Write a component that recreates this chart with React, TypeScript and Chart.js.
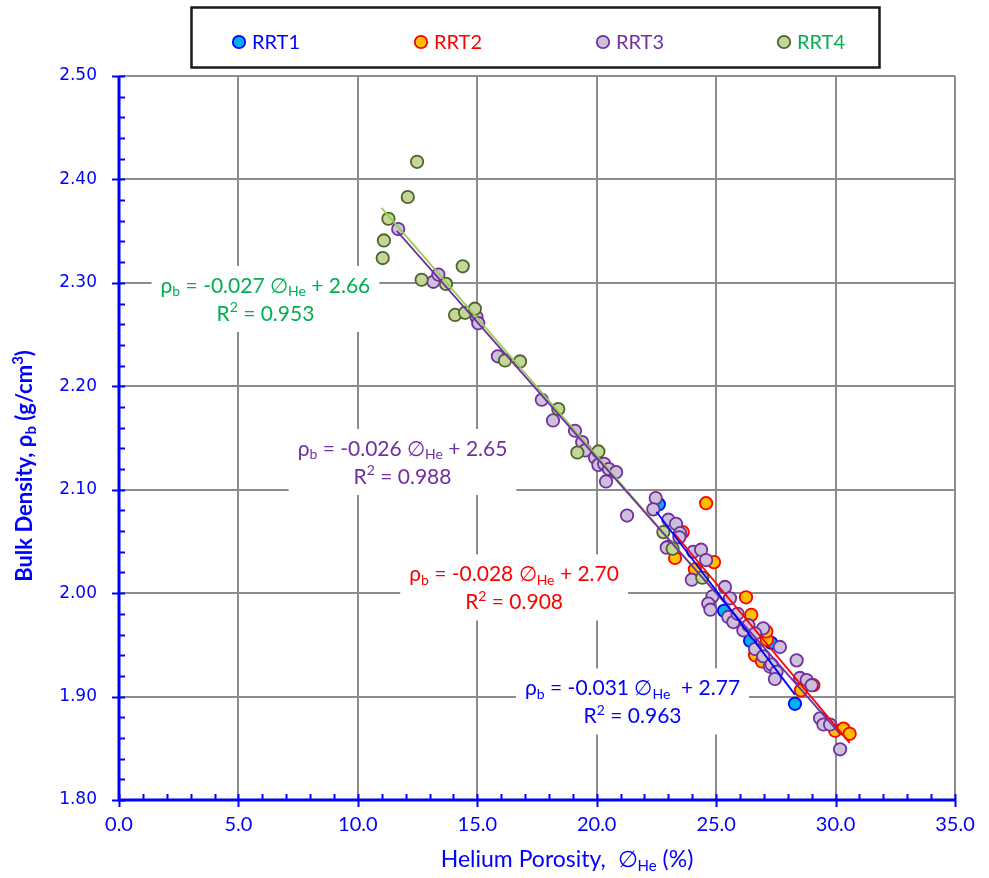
import React, { useEffect, useRef } from "react";
import { Chart, registerables } from "chart.js";

Chart.register(...registerables);

// ---- data -------------------------------------------------------------
const seriesNames = ["RRT1", "RRT2", "RRT3", "RRT4"];

// Helium porosity (%) and bulk density (g/cm3) per rock type
const rrt1Porosity = [22.6, 25.33, 26.42, 27.3, 28.3];
const rrt1Density = [2.086, 1.983, 1.954, 1.952, 1.893];

const rrt2Porosity = [24.58, 23.6, 23.28, 24.91, 24.11, 26.25, 26.47, 27.12, 27.1, 26.63, 26.92, 28.55, 29.07, 29.98, 30.33, 30.59];
const rrt2Density = [2.087, 2.059, 2.034, 2.03, 2.023, 1.996, 1.979, 1.955, 1.963, 1.94, 1.934, 1.906, 1.911, 1.867, 1.869, 1.864];

const rrt3Porosity = [
  11.69, 13.16, 13.37, 14.97, 15.04, 15.86, 17.7, 18.17, 19.09, 19.39, 19.51, 19.93, 20.07, 20.31, 20.51,
  20.81, 20.39, 21.27, 22.47, 22.37, 23.0, 23.32, 23.49, 23.46, 23.0, 22.93, 24.04, 24.37, 24.58, 23.98,
  25.37, 25.58, 24.85, 24.67, 24.76, 25.51, 25.72, 25.9, 26.14, 26.35, 26.97, 26.63, 27.67, 26.63, 26.97,
  27.25, 28.37, 27.32, 27.53, 27.46, 28.51, 28.79, 29.0, 29.35, 29.49, 29.77, 30.19,
];
const rrt3Density = [
  2.352, 2.301, 2.308, 2.267, 2.261, 2.229, 2.187, 2.167, 2.157, 2.146, 2.138, 2.131, 2.124, 2.125, 2.12,
  2.117, 2.108, 2.075, 2.092, 2.081, 2.071, 2.067, 2.058, 2.054, 2.045, 2.044, 2.04, 2.042, 2.032, 2.013,
  2.006, 1.995, 1.997, 1.99, 1.984, 1.977, 1.972, 1.98, 1.964, 1.969, 1.966, 1.961, 1.948, 1.946, 1.939,
  1.929, 1.935, 1.931, 1.924, 1.917, 1.918, 1.916, 1.911, 1.879, 1.873, 1.873, 1.849,
];

const rrt4Porosity = [11.04, 11.09, 11.28, 12.09, 12.48, 12.67, 13.69, 14.39, 14.07, 14.49, 14.9, 16.16, 16.79, 18.39, 19.19, 20.07, 22.79, 23.18, 24.42];
const rrt4Density = [2.324, 2.341, 2.362, 2.383, 2.417, 2.303, 2.299, 2.316, 2.269, 2.271, 2.275, 2.225, 2.224, 2.178, 2.136, 2.137, 2.059, 2.043, 2.015];

// linear trend lines: density = slope * porosity + intercept
const trendSlope = [-0.0305, -0.0276, -0.0262, -0.0266];
const trendIntercept = [2.765, 2.6995, 2.6549, 2.6649];
const trendFrom = [22.5, 23.28, 11.63, 10.99];
const trendTo = [28.3, 30.59, 30.19, 24.9];

// equation labels
const eqSlopeText = ["-0.031", "-0.028", "-0.026", "-0.027"];
const eqInterceptText = ["2.77", "2.70", "2.65", "2.66"];
const eqR2Text = ["0.963", "0.908", "0.988", "0.953"];
const eqAnchorX = [21.5, 16.54, 11.87, 6.13];
const eqAnchorY = [1.8953, 2.0055, 2.1268, 2.2844];

// axes
const xTicks = [0, 5, 10, 15, 20, 25, 30, 35];
const yTicks = [1.8, 1.9, 2.0, 2.1, 2.2, 2.3, 2.4, 2.5];

// ---- styling ----------------------------------------------------------
const AXIS_BLUE = "#0000FF";
const GRID_GREY = "#8C8C8C";
const markerFill = ["#00B0F0", "#FFC000", "#CCC0DA", "#C4D79B"];
const markerEdge = ["#0000FF", "#FF0000", "#7030A0", "#4F6228"];
const trendColor = ["#0000FF", "#FF0000", "#7030A0", "#92D050"];
const textColor = ["#0000FF", "#FF0000", "#7030A0", "#00B050"];
const SANS = "Lato, 'Noto Sans', sans-serif";
const MARKER_R = 6.2;

type Seg = { t: string; sub?: boolean; sup?: boolean };

function segFont(seg: Seg, size: number, weight: string) {
  const s = seg.sub || seg.sup ? Math.round(size * 0.66) : size;
  return `${weight} ${s}px ${SANS}`;
}

function richWidth(ctx: CanvasRenderingContext2D, segs: Seg[], size: number, weight: string) {
  let w = 0;
  for (const seg of segs) {
    ctx.font = segFont(seg, size, weight);
    w += ctx.measureText(seg.t).width;
  }
  return w;
}

function drawRich(
  ctx: CanvasRenderingContext2D,
  segs: Seg[],
  cx: number,
  cy: number,
  size: number,
  weight: string,
  color: string
) {
  const total = richWidth(ctx, segs, size, weight);
  let x = cx - total / 2;
  ctx.save();
  ctx.fillStyle = color;
  ctx.textBaseline = "middle";
  ctx.textAlign = "left";
  for (const seg of segs) {
    ctx.font = segFont(seg, size, weight);
    let dy = 0;
    if (seg.sub) dy = size * 0.28;
    if (seg.sup) dy = -size * 0.3;
    ctx.fillText(seg.t, x, cy + dy);
    x += ctx.measureText(seg.t).width;
  }
  ctx.restore();
}

function pairs(xs: number[], ys: number[]) {
  return xs.map((x, i) => ({ x, y: ys[i] }));
}

// axis lines with major / minor tick marks, plus axis titles
const axesPlugin = {
  id: "axesPlugin",
  afterDraw(chart: any) {
    const ctx: CanvasRenderingContext2D = chart.ctx;
    const xs = chart.scales.x;
    const ys = chart.scales.y;
    const { left, right, top, bottom } = chart.chartArea;
    ctx.save();
    ctx.strokeStyle = AXIS_BLUE;
    ctx.lineWidth = 2;
    ctx.beginPath();
    for (let i = 0; i <= 35; i++) {
      const px = Math.round(xs.getPixelForValue(i)) + 0.5;
      const major = i % 5 === 0;
      ctx.moveTo(px, bottom - 6);
      ctx.lineTo(px, major ? bottom + 7 : bottom);
    }
    for (let i = 0; i <= 35; i++) {
      const v = 1.8 + i * 0.02;
      const py = Math.round(ys.getPixelForValue(v)) + 0.5;
      const major = i % 5 === 0;
      ctx.moveTo(left + 6, py);
      ctx.lineTo(major ? left - 7 : left, py);
    }
    ctx.stroke();
    ctx.lineWidth = 3;
    ctx.beginPath();
    ctx.moveTo(left, top);
    ctx.lineTo(left, bottom);
    ctx.lineTo(right, bottom);
    ctx.stroke();
    ctx.restore();

    const yt: Seg[] = [{ t: "Bulk Density, ρ" }, { t: "b", sub: true }, { t: " (g/cm" }, { t: "3", sup: true }, { t: ")" }];
    ctx.save();
    ctx.translate(25, 466);
    ctx.rotate(-Math.PI / 2);
    drawRich(ctx, yt, 0, 0, 22, "bold", AXIS_BLUE);
    ctx.restore();

    const xt: Seg[] = [{ t: "Helium Porosity,  ∅" }, { t: "He", sub: true }, { t: " (%)" }];
    drawRich(ctx, xt, 567, 860, 23, "normal", AXIS_BLUE);
  },
};

// white boxes holding the trend equations
const equationPlugin = {
  id: "equationPlugin",
  beforeDatasetsDraw(chart: any) {
    const ctx: CanvasRenderingContext2D = chart.ctx;
    const xs = chart.scales.x;
    const ys = chart.scales.y;
    const size = 21;
    for (let i = 0; i < 4; i++) {
      const gap = i === 0 ? "  + " : " + ";
      const l1: Seg[] = [
        { t: "ρ" },
        { t: "b", sub: true },
        { t: ` = ${eqSlopeText[i]} ∅` },
        { t: "He", sub: true },
        { t: `${gap}${eqInterceptText[i]}` },
      ];
      const l2: Seg[] = [{ t: "R" }, { t: "2", sup: true }, { t: ` = ${eqR2Text[i]}` }];
      const cx = xs.getPixelForValue(eqAnchorX[i]);
      const cy = ys.getPixelForValue(eqAnchorY[i]);
      const w = richWidth(ctx, l1, size, "normal") + 18;
      const h = 66;
      ctx.save();
      ctx.fillStyle = "#FFFFFF";
      ctx.fillRect(cx - w / 2, cy - h / 2, w, h);
      ctx.restore();
      drawRich(ctx, l1, cx, cy - 13, size, "normal", textColor[i]);
      drawRich(ctx, l2, cx, cy + 15, size, "normal", textColor[i]);
    }
  },
};

// framed legend across the top
const legendPlugin = {
  id: "legendPlugin",
  afterDraw(chart: any) {
    const ctx: CanvasRenderingContext2D = chart.ctx;
    ctx.save();
    ctx.strokeStyle = "#1A1A1A";
    ctx.lineWidth = 2.5;
    ctx.strokeRect(191.5, 7.5, 688, 60);
    const mx = [239, 421, 603, 784];
    for (let i = 0; i < 4; i++) {
      ctx.beginPath();
      ctx.arc(mx[i], 42, MARKER_R, 0, Math.PI * 2);
      ctx.fillStyle = markerFill[i];
      ctx.fill();
      ctx.lineWidth = 1.8;
      ctx.strokeStyle = markerEdge[i];
      ctx.stroke();
      ctx.font = `normal 20px ${SANS}`;
      ctx.fillStyle = textColor[i];
      ctx.textBaseline = "middle";
      ctx.textAlign = "left";
      ctx.fillText(seriesNames[i], mx[i] + 13, 43);
    }
    ctx.restore();
  },
};

export default function App() {
  const ref = useRef<HTMLCanvasElement>(null);

  useEffect(() => {
    if (!ref.current) return;
    const porosity = [rrt1Porosity, rrt2Porosity, rrt3Porosity, rrt4Porosity];
    const density = [rrt1Density, rrt2Density, rrt3Density, rrt4Density];

    const pointSets = seriesNames.map((name, i) => ({
      type: "scatter" as const,
      label: name,
      data: pairs(porosity[i], density[i]),
      backgroundColor: markerFill[i],
      borderColor: markerEdge[i],
      borderWidth: 1.8,
      pointRadius: MARKER_R,
      pointHoverRadius: MARKER_R,
      order: 10 - i,
    }));

    const trendSets = seriesNames.map((name, i) => ({
      type: "line" as const,
      label: `${name} trend`,
      data: [trendFrom[i], trendTo[i]].map((x) => ({ x, y: trendSlope[i] * x + trendIntercept[i] })),
      borderColor: trendColor[i],
      borderWidth: 1.8,
      pointRadius: 0,
      fill: false,
      order: i,
    }));

    const chart = new Chart(ref.current, {
      type: "scatter",
      data: { datasets: [...pointSets, ...trendSets] as any },
      options: {
        responsive: false,
        animation: false,
        events: [],
        layout: { padding: { top: 76, right: 34, left: 0, bottom: 0 } },
        plugins: { legend: { display: false }, tooltip: { enabled: false } },
        scales: {
          x: {
            type: "linear",
            min: 0,
            max: 35,
            afterBuildTicks: (s: any) => {
              s.ticks = xTicks.map((value) => ({ value }));
            },
            afterFit: (s: any) => {
              s.height = 78;
            },
            ticks: {
              color: AXIS_BLUE,
              font: { family: SANS, size: 20 },
              padding: 13,
              maxRotation: 0,
              callback: (v: any) => Number(v).toFixed(1),
            },
            grid: { color: GRID_GREY, lineWidth: 2, drawTicks: false },
            border: { display: false },
          },
          y: {
            type: "linear",
            min: 1.8,
            max: 2.5,
            afterBuildTicks: (s: any) => {
              s.ticks = yTicks.map((value) => ({ value }));
            },
            afterFit: (s: any) => {
              s.width = 119;
            },
            ticks: {
              color: AXIS_BLUE,
              font: { family: "'DejaVu Sans', Verdana, sans-serif", size: 17 },
              padding: 22,
              callback: (v: any) => Number(v).toFixed(2),
            },
            grid: { color: GRID_GREY, lineWidth: 2, drawTicks: false },
            border: { display: false },
          },
        },
      },
      plugins: [equationPlugin, axesPlugin, legendPlugin],
    });
    return () => chart.destroy();
  }, []);

  return (
    <div style={{ position: "absolute", left: 0, top: 0, width: 989, height: 878, background: "#FFFFFF" }}>
      <canvas ref={ref} width={989} height={878} style={{ width: 989, height: 878, display: "block" }} />
    </div>
  );
}
